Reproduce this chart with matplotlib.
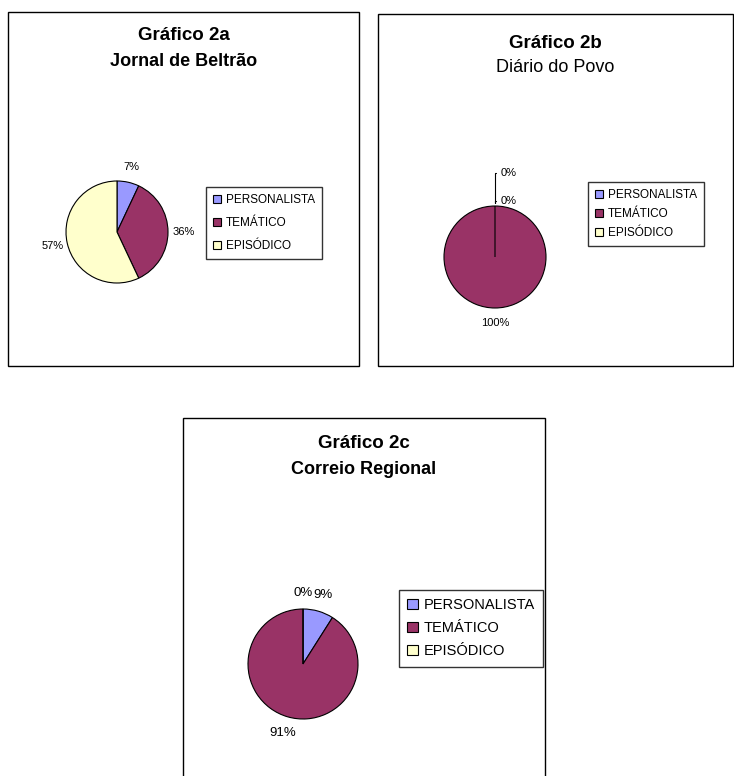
import numpy as np
import matplotlib
matplotlib.use("Agg")
import matplotlib.pyplot as plt
from matplotlib.patches import Rectangle

# data
categories = ["PERSONALISTA", "TEMÁTICO", "EPISÓDICO"]
colors = ["#9999FF", "#993366", "#FFFFCC"]

titles_a = ["Gráfico 2a", "Jornal de Beltrão"]
values_a = [7, 36, 57]

titles_b = ["Gráfico 2b", "Diário do Povo"]
values_b = [0, 100, 0]

titles_c = ["Gráfico 2c", "Correio Regional"]
values_c = [9, 91, 0]

W, H = 734, 776
plt.rcParams['font.family'] = ['Liberation Sans', 'DejaVu Sans']


def fx(x):
    return x / W


def fy(y):
    return 1 - y / H


def panel(fig, box, titles, title_y, sub_bold, values, center, r,
          leg_center, leg_fs, leg_space, lab_fs):
    x0, y0, x1, y1 = box
    fig.patches.append(Rectangle((fx(x0), fy(y1)), fx(x1 - x0), (y1 - y0) / H,
                                 transform=fig.transFigure, fill=False,
                                 edgecolor="black", linewidth=1.0))
    cx = (x0 + x1) / 2
    fig.text(fx(cx), fy(title_y[0]), titles[0], ha="center", va="center",
             fontsize=13.5, fontweight="bold")
    fig.text(fx(cx), fy(title_y[1]), titles[1], ha="center", va="center",
             fontsize=13, fontweight="bold" if sub_bold else "normal")

    ax = fig.add_axes([fx(center[0] - r), fy(center[1] + r), 2 * r / W, 2 * r / H])
    wedges, texts, autotexts = ax.pie(
        values, colors=colors, startangle=90, counterclock=False,
        autopct=lambda p: f"{p:.0f}%", pctdistance=1.3,
        wedgeprops=dict(edgecolor="black", linewidth=0.8),
        textprops=dict(fontsize=lab_fs, color="black"))
    ax.set_xlim(-1, 1)
    ax.set_ylim(-1, 1)

    leg = ax.legend(wedges, categories, loc="center",
                    bbox_to_anchor=(fx(leg_center[0]), fy(leg_center[1])),
                    bbox_transform=fig.transFigure, fontsize=leg_fs,
                    frameon=True, fancybox=False, handlelength=0.7,
                    handleheight=0.7, handletextpad=0.4,
                    labelspacing=leg_space, borderpad=0.6)
    leg.get_frame().set_edgecolor("black")
    leg.get_frame().set_linewidth(1.0)
    for h in leg.legend_handles:
        h.set_edgecolor("black")
        h.set_linewidth(0.8)
    return ax, wedges, autotexts


fig = plt.figure(figsize=(W / 100, H / 100), dpi=100)

panel(fig, (8, 12, 359, 366), titles_a, (35, 62), True, values_a,
      (117, 232), 51, (264, 223), 8.5, 0.95, 8)

ax_b, wedges_b, auto_b = panel(fig, (378, 14, 732.5, 366), titles_b, (43, 68), False,
                               values_b, (495, 257), 51, (646, 214), 8.5, 0.6, 8)
# zero slices: labels pushed up with leader lines, as in the original
for i, dy in [(0, 1.65), (2, 1.1)]:
    w = wedges_b[i]
    ang = np.deg2rad(w.theta1)
    auto_b[i].set_visible(False)
    ax_b.annotate(auto_b[i].get_text(), xy=(np.cos(ang), np.sin(ang)),
                  xytext=(np.cos(ang) + 0.12, dy), ha="left", va="center",
                  fontsize=8,
                  arrowprops=dict(arrowstyle="-", lw=0.8,
                                  connectionstyle="angle,angleA=0,angleB=90,rad=0"))

panel(fig, (183, 418, 545, 790), titles_c, (443, 470), True, values_c,
      (303, 664), 55, (471, 628), 10.5, 0.6, 9.5)

fig.savefig("out.png", dpi=100)
